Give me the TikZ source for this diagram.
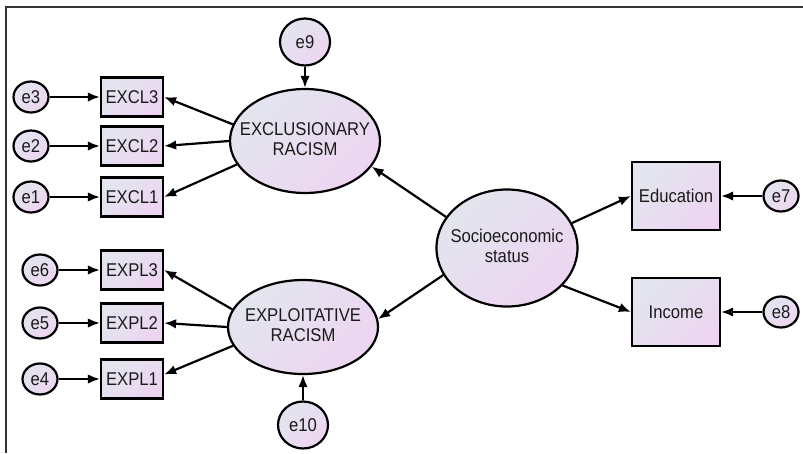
\documentclass[tikz,border=0pt]{standalone}
\usepackage{fontspec}
\setmainfont{Liberation Sans}[FakeStretch=0.9]
\usetikzlibrary{arrows.meta,shapes.geometric}
\definecolor{fillA}{HTML}{E2E5EE}
\definecolor{fillB}{HTML}{EDD5F1}
\definecolor{txt}{HTML}{1A1A1A}
\newcommand\lbl[1]{\makebox[0pt]{\begin{tabular}{@{}c@{}}#1\end{tabular}}}
\begin{document}
\begin{tikzpicture}[x=1pt,y=-1pt,
  base/.style={draw=black, line width=2.2pt, left color=fillA, right color=fillB,
    shading angle=45, text=txt, font=\fontsize{18.5}{20}\selectfont, inner sep=0pt},
  lat/.style={base, ellipse},
  err/.style={base, ellipse, minimum width=35pt, minimum height=31pt},
  bigerr/.style={base, ellipse, minimum width=50pt, minimum height=47pt},
  obs/.style={base, rectangle, minimum width=62pt, minimum height=39pt},
  bigobs/.style={base, rectangle, minimum width=88pt, minimum height=68pt},
  arr/.style={line width=2.2pt, -{Latex[length=12pt,width=9.5pt]}}]
\useasboundingbox (0,0) rectangle (803,453);
\draw[line width=1.3pt, black!80] (6,453) -- (6,7) -- (803,7);

% latent variables
\node[lat, minimum width=150pt, minimum height=104pt] (exc) at (305,141) {\lbl{EXCLUSIONARY\\RACISM}};
\node[lat, minimum width=150pt, minimum height=94pt] (expl) at (303,327) {\lbl{EXPLOITATIVE\\RACISM}};
\node[lat, minimum width=141pt, minimum height=117pt] (ses) at (507,248) {\lbl{Socioeconomic\\status}};

% observed variables
\node[obs] (excl3) at (132,97) {EXCL3};
\node[obs] (excl2) at (132,146) {EXCL2};
\node[obs] (excl1) at (132,197) {EXCL1};
\node[obs] (expl3) at (132,270) {EXPL3};
\node[obs] (expl2) at (132,323) {EXPL2};
\node[obs] (expl1) at (132,379) {EXPL1};
\node[bigobs] (edu) at (676,196) {Education};
\node[bigobs] (inc) at (676,312) {Income};

% error terms
\node[err] (e3) at (31,97) {e3};
\node[err] (e2) at (31,146) {e2};
\node[err] (e1) at (31,197) {e1};
\node[err] (e6) at (40,270) {e6};
\node[err] (e5) at (40,323) {e5};
\node[err] (e4) at (40,379) {e4};
\node[err] (e7) at (781,196) {e7};
\node[err] (e8) at (781,312) {e8};
\node[bigerr] (e9) at (305,42) {e9};
\node[bigerr] (e10) at (303,425) {e10};

% connectors
\draw[arr] (e3) -- (excl3);
\draw[arr] (e2) -- (excl2);
\draw[arr] (e1) -- (excl1);
\draw[arr] (e6) -- (expl3);
\draw[arr] (e5) -- (expl2);
\draw[arr] (e4) -- (expl1);
\draw[arr] (e7) -- (edu);
\draw[arr] (e8) -- (inc);
\draw[arr] (e9) -- (exc);
\draw[arr] (e10) -- (expl);
\draw[arr] (exc.167) -- (excl3.east);
\draw[arr] (exc.west) -- (excl2.east);
\draw[arr] (exc.199) -- (excl1.east);
\draw[arr] (expl.166) -- (expl3.east);
\draw[arr] (expl.west) -- (expl2.east);
\draw[arr] (expl.195) -- (expl1.8);
\draw[arr] (ses.153) -- (exc.339);
\draw[arr] (ses.203) -- (expl.6);
\draw[arr] (ses.21) -- (edu.west);
\draw[arr] (ses.326) -- (inc.west);
\end{tikzpicture}
\end{document}
